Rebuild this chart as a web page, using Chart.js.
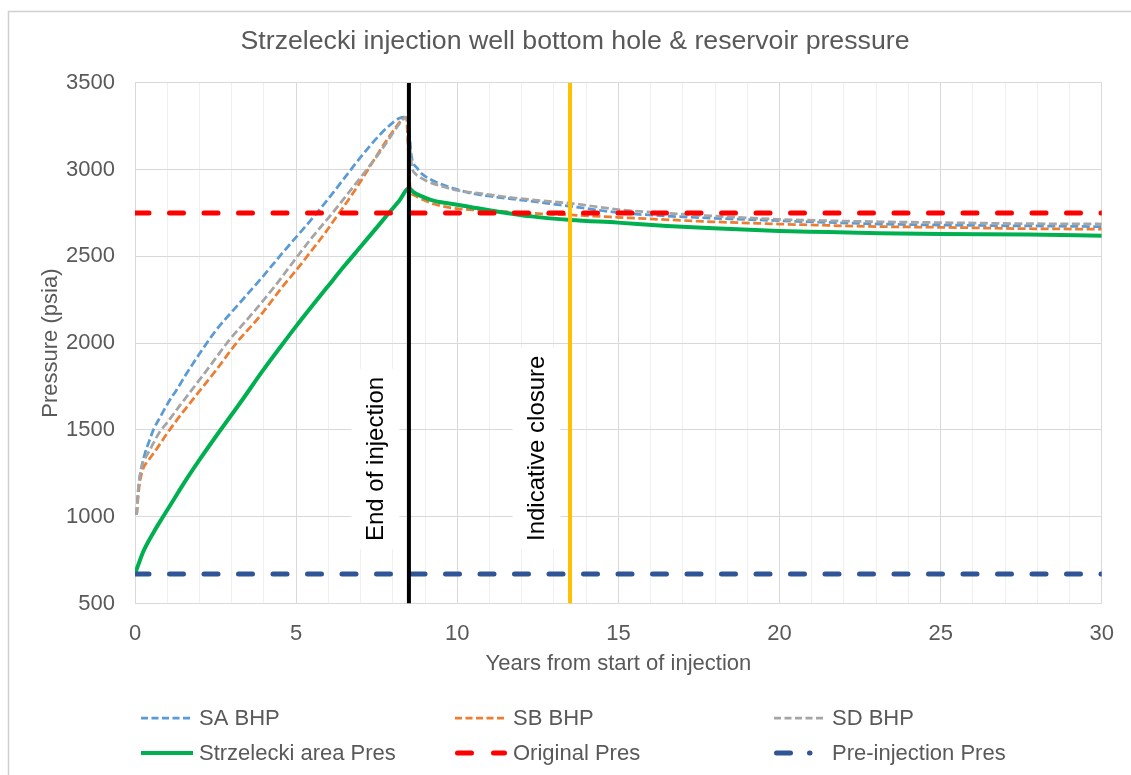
<!DOCTYPE html>
<html>
<head>
<meta charset="utf-8">
<script src="https://cdn.jsdelivr.net/npm/chart.js@4.4.1/dist/chart.umd.min.js"></script>
<style>
  html, body { margin: 0; padding: 0; background: #fff; }
  #chart { display: block; }
</style>
</head>
<body>
<canvas id="chart" width="1131" height="775"></canvas>
<script>
// values
const saYears = [0.05, 0.1, 0.15, 0.22, 0.31, 0.45, 0.57, 0.8, 1.08, 1.29, 1.6, 2.01, 2.52, 3.24, 3.96, 4.58, 5.0, 5.6, 6.1, 6.64, 7.15, 7.66, 8.0, 8.2, 8.35, 8.45, 8.52, 8.58, 8.75, 8.9, 9.15, 9.42, 9.9, 10.44, 11.2, 12.0, 12.8, 13.5, 15.1, 16.5, 18.0, 20.0, 21.5, 23.1, 25.0, 27.7, 30.0];
const saPres = [1010, 1150, 1230, 1300, 1365, 1440, 1500, 1580, 1672, 1730, 1825, 1941, 2075, 2229, 2382, 2520, 2610, 2740, 2855, 2985, 3105, 3212, 3270, 3295, 3302, 3295, 3200, 3075, 3010, 2975, 2945, 2921, 2890, 2863, 2842, 2824, 2805, 2788, 2750, 2732, 2719, 2705, 2695, 2686, 2680, 2675, 2671];

const sbYears = [0.05, 0.1, 0.15, 0.26, 0.4, 0.67, 0.98, 1.29, 1.9, 2.52, 3.14, 3.86, 4.58, 5.09, 5.45, 5.9, 6.33, 6.75, 7.15, 7.5, 7.87, 8.1, 8.3, 8.42, 8.47, 8.55, 8.64, 8.9, 9.3, 9.93, 10.7, 11.47, 12.5, 13.53, 15.59, 17.95, 20.0, 21.5, 23.1, 25.0, 27.7, 30.0];
const sbPres = [1010, 1120, 1200, 1280, 1320, 1390, 1475, 1555, 1700, 1845, 1999, 2152, 2325, 2440, 2526, 2635, 2748, 2860, 2975, 3080, 3185, 3245, 3290, 3300, 3150, 2875, 2853, 2828, 2800, 2776, 2765, 2757, 2746, 2738, 2719, 2699, 2686, 2678, 2671, 2667, 2659, 2656];

const sdYears = [0.05, 0.1, 0.15, 0.21, 0.3, 0.46, 0.77, 0.98, 1.39, 1.6, 2.31, 2.93, 3.65, 4.37, 5.0, 5.5, 6.12, 6.6, 7.15, 7.6, 7.97, 8.2, 8.38, 8.45, 8.52, 8.6, 8.69, 8.85, 9.1, 9.5, 9.93, 10.7, 11.47, 12.5, 13.53, 15.09, 16.5, 17.95, 20.0, 21.5, 23.1, 25.0, 27.7, 30.0];
const sdPres = [1010, 1150, 1230, 1290, 1330, 1384, 1490, 1538, 1640, 1691, 1864, 2018, 2172, 2335, 2490, 2610, 2748, 2860, 2990, 3100, 3200, 3262, 3298, 3295, 3150, 3010, 2978, 2955, 2930, 2905, 2882, 2862, 2843, 2822, 2805, 2767, 2748, 2732, 2713, 2705, 2699, 2694, 2688, 2686];

const areaYears = [0, 0.1, 0.26, 0.57, 0.87, 1.2, 1.49, 2.01, 2.52, 2.93, 3.3, 3.96, 4.5, 4.99, 5.5, 6.02, 6.5, 7.0, 7.5, 7.87, 8.2, 8.5, 8.64, 8.9, 9.2, 9.6, 10.03, 10.6, 11.27, 12.3, 13.53, 14.98, 16.5, 17.95, 19.99, 21.5, 23.1, 25.0, 27.7, 30.0];
const areaPres = [672, 722, 800, 908, 1000, 1098, 1185, 1330, 1465, 1570, 1665, 1840, 1975, 2095, 2215, 2335, 2445, 2555, 2665, 2748, 2820, 2892, 2870, 2845, 2824, 2808, 2796, 2778, 2757, 2730, 2709, 2694, 2675, 2661, 2646, 2640, 2633, 2628, 2626, 2619];

const origYears = [0, 30];
const origPres = [2750, 2750];

const preYears = [0, 30];
const prePres = [670, 670];

const eventYears = [8.5, 13.5];
const eventLabels = ['End of injection', 'Indicative closure'];
const eventColors = ['#000000', '#FFC000'];

const yTicksRange = [500, 3500];
const xTicksRange = [0, 30];

const chartTitle = 'Strzelecki injection well bottom hole & reservoir pressure';

const FONT = "'Liberation Sans', Arial, sans-serif";
const GREY_TEXT = '#595959';

function toPoints(xs, ys) {
    return xs.map((x, i) => ({ x: x, y: ys[i] }));
}

const datasets = [
    {
        label: 'SA BHP', data: toPoints(saYears, saPres),
        borderColor: '#5B9BD5', borderWidth: 2.75, borderDash: [8, 3.5],
        legendDash: [7, 3.5], cubicInterpolationMode: 'monotone', order: 6
    },
    {
        label: 'SB BHP', data: toPoints(sbYears, sbPres),
        borderColor: '#ED7D31', borderWidth: 2.75, borderDash: [8, 3.5],
        legendDash: [7, 3.5], cubicInterpolationMode: 'monotone', order: 5
    },
    {
        label: 'SD BHP', data: toPoints(sdYears, sdPres),
        borderColor: '#A5A5A5', borderWidth: 2.75, borderDash: [8, 3.5],
        legendDash: [7, 3.5], cubicInterpolationMode: 'monotone', order: 4
    },
    {
        label: 'Strzelecki area Pres', data: toPoints(areaYears, areaPres),
        borderColor: '#00B050', borderWidth: 4, borderDash: [],
        legendDash: [], cubicInterpolationMode: 'monotone', order: 3
    },
    {
        label: 'Original Pres', data: toPoints(origYears, origPres),
        borderColor: '#FF0000', borderWidth: 5, borderDash: [14, 20.5], borderCapStyle: 'round',
        legendDash: [14, 22], order: 2
    },
    {
        label: 'Pre-injection Pres', data: toPoints(preYears, prePres),
        borderColor: '#2F5597', borderWidth: 5, borderDash: [14, 20.5], borderCapStyle: 'round',
        legendDash: [14, 19, 0.5, 100], order: 1
    }
];

eventYears.forEach((yr, i) => {
    datasets.push({
        label: eventLabels[i], data: toPoints([yr, yr], yTicksRange),
        borderColor: eventColors[i], borderWidth: 4, order: 0, isEvent: true
    });
});

// white boxes + rotated labels next to the event lines
const eventLabelPlugin = {
    id: 'eventLabels',
    beforeDatasetsDraw(chart) {
        const { ctx, chartArea, scales } = chart;
        ctx.save();
        ctx.font = '24px ' + FONT;
        eventYears.forEach((yr, i) => {
            const cx = scales.x.getPixelForValue(yr) - 33.5;
            const startY = chartArea.bottom - 62.5;
            const w = ctx.measureText(eventLabels[i]).width;
            ctx.fillStyle = '#ffffff';
            ctx.fillRect(cx - 24, startY - w - 8, 48, w + 16);
            ctx.save();
            ctx.translate(cx, startY);
            ctx.rotate(-Math.PI / 2);
            ctx.fillStyle = '#000000';
            ctx.textAlign = 'left';
            ctx.textBaseline = 'middle';
            ctx.fillText(eventLabels[i], 0, 1);
            ctx.restore();
        });
        ctx.restore();
    }
};

// title, grid-style legend at the bottom and the outer frame
const decorPlugin = {
    id: 'decor',
    afterDraw(chart) {
        const { ctx } = chart;
        ctx.save();
        ctx.fillStyle = GREY_TEXT;
        ctx.font = '26.7px ' + FONT;
        ctx.textAlign = 'center';
        ctx.textBaseline = 'middle';
        ctx.fillText(chartTitle, 575, 42);

        const cols = [141, 455, 774];
        const rows = [718, 753];
        chart.data.datasets.filter(d => !d.isEvent).forEach((ds, i) => {
            const x = cols[i % 3];
            const y = rows[Math.floor(i / 3)];
            ctx.strokeStyle = ds.borderColor;
            ctx.lineWidth = ds.borderWidth;
            ctx.lineCap = ds.borderCapStyle || 'butt';
            ctx.setLineDash(ds.legendDash);
            ctx.beginPath();
            const inset = ds.borderCapStyle === 'round' ? ds.borderWidth / 2 : 0;
            ctx.moveTo(x + inset, y);
            ctx.lineTo(x + 52 - inset, y);
            ctx.stroke();
            ctx.setLineDash([]);
            ctx.fillStyle = GREY_TEXT;
            ctx.font = '22px ' + FONT;
            ctx.textBaseline = 'middle';
            ctx.textAlign = 'left';
            ctx.fillText(ds.label, x + 58, y + 1);
        });
        ctx.strokeStyle = '#D0D0D0';
        ctx.lineWidth = 1.5;
        ctx.strokeRect(8.5, 11.5, 1300, 1000);
        ctx.restore();
    }
};

new Chart(document.getElementById('chart').getContext('2d'), {
    type: 'line',
    data: { datasets: datasets },
    options: {
        responsive: false,
        animation: false,
        events: [],
        elements: { point: { radius: 0 }, line: { tension: 0 } },
        layout: { padding: { left: 0, right: 24.3, top: 82.7, bottom: 98 } },
        plugins: {
            legend: { display: false },
            tooltip: { enabled: false },
            title: { display: false }
        },
        scales: {
            x: {
                type: 'linear',
                min: xTicksRange[0],
                max: xTicksRange[1],
                ticks: {
                    stepSize: 1,
                    autoSkip: false,
                    maxRotation: 0,
                    padding: 17,
                    color: GREY_TEXT,
                    font: { family: FONT, size: 22 },
                    callback: v => (v % 5 === 0 ? String(v) : '')
                },
                grid: {
                    drawTicks: false,
                    color: c => (c.tick && c.tick.value % 5 === 0 ? '#D9D9D9' : '#F0F0F0')
                },
                border: { color: '#D9D9D9' },
                title: {
                    display: true,
                    text: 'Years from start of injection',
                    color: GREY_TEXT,
                    font: { family: FONT, size: 22 },
                    padding: { top: 0, bottom: 0 }
                },
                afterFit: s => { s.height = 73.5; }
            },
            y: {
                min: yTicksRange[0],
                max: yTicksRange[1],
                ticks: {
                    stepSize: 500,
                    padding: 20,
                    color: GREY_TEXT,
                    font: { family: FONT, size: 22 },
                    callback: v => String(v)
                },
                grid: { drawTicks: false, color: '#D9D9D9' },
                border: { color: '#D9D9D9' },
                title: {
                    display: true,
                    text: 'Pressure (psia)',
                    color: GREY_TEXT,
                    font: { family: FONT, size: 22 },
                    padding: { top: 38, bottom: 0 }
                },
                afterFit: s => { s.width = 135; }
            }
        }
    },
    plugins: [eventLabelPlugin, decorPlugin]
});
</script>
</body>
</html>
